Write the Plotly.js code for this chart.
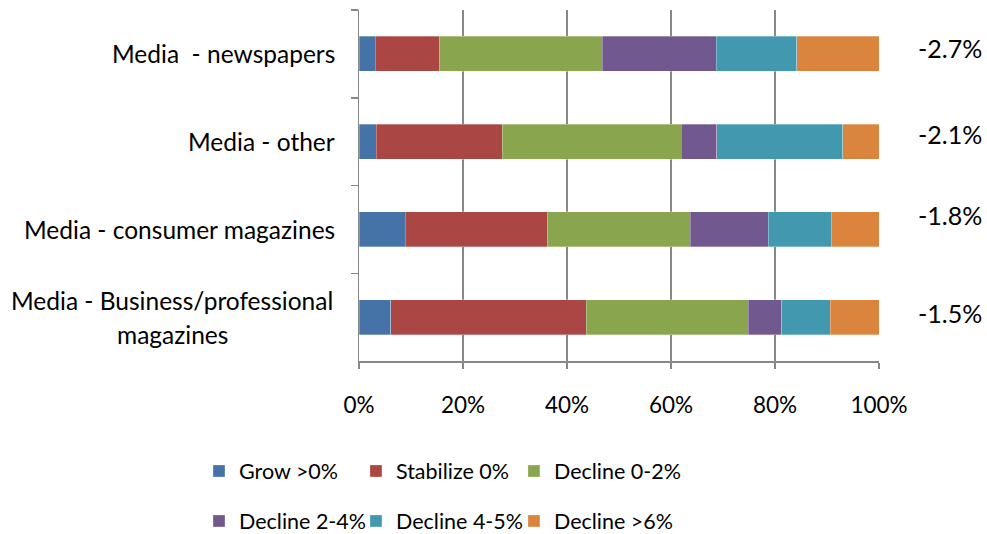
<!DOCTYPE html>
<html>
<head>
<meta charset="utf-8">
<script src="https://cdn.plot.ly/plotly-3.0.1.min.js"></script>
<style>
html,body{margin:0;padding:0;background:#fff;}
#chart{width:987px;height:534px;}
</style>
</head>
<body>
<div id="chart"></div>
<script>
// Categories (top to bottom as in the reference)
const categories = [
  "Media  - newspapers",
  "Media - other",
  "Media - consumer magazines",
  "Media - Business/professional<br>magazines"
];
const seriesNames = ["Grow >0%", "Stabilize 0%", "Decline 0-2%", "Decline 2-4%", "Decline 4-5%", "Decline >6%"];
const growVals      = [3.1, 3.3, 8.9, 6.1];
const stabilizeVals = [12.3, 24.2, 27.3, 37.6];
const decl02Vals    = [31.4, 34.5, 27.5, 31.2];
const decl24Vals    = [21.9, 6.8, 15.0, 6.4];
const decl45Vals    = [15.5, 24.2, 12.1, 9.3];
const declGt6Vals   = [15.8, 7.0, 9.2, 9.4];
const avgLabels     = ["-2.7%", "-2.1%", "-1.8%", "-1.5%"];
const xTickVals     = [0, 20, 40, 60, 80, 100];
const xTickText     = ["0%", "20%", "40%", "60%", "80%", "100%"];
const colors = ["#4572A7", "#AA4643", "#89A54E", "#71588F", "#4198AF", "#DB843D"];

const FONT = "Lato, 'Open Sans', sans-serif";
const allVals = [growVals, stabilizeVals, decl02Vals, decl24Vals, decl45Vals, declGt6Vals];
const legendIds = ["legend", "legend2", "legend3"];

const traces = allVals.map((vals, i) => ({
  type: "bar",
  orientation: "h",
  name: seriesNames[i],
  y: categories,
  x: vals,
  marker: {color: colors[i], line: {color: "rgba(255,255,255,0.5)", width: 0.6}},
  legend: legendIds[i % 3],
  legendgroup: "g" + i,
  hoverinfo: "x+name"
}));

const annotations = [];
// category labels (centered multi-line, right aligned to axis)
categories.forEach((c, i) => {
  const lines = c.split("<br>");
  if (lines.length === 1) {
    annotations.push({xref: "paper", yref: "y", x: 0, y: c, xanchor: "right", xshift: -22,
      text: c, showarrow: false, font: {family: FONT, size: 24.5, color: "#000"}});
  } else {
    lines.forEach((ln, k) => {
      annotations.push({xref: "paper", yref: "y", x: -0.3596, y: c, xanchor: "center",
        yshift: (lines.length - 1) / 2 * 34 - k * 34,
        text: ln, showarrow: false, font: {family: FONT, size: 24.5, color: "#000"}});
    });
  }
});
const avgShift = [6, 8, 14, 4];
avgLabels.forEach((t, i) => {
  annotations.push({xref: "paper", yref: "y", x: 1.137, y: categories[i], xanchor: "center",
    yshift: avgShift[i], text: t, showarrow: false, font: {family: FONT, size: 25, color: "#000"}});
});

const legendCommon = {
  orientation: "v", xref: "paper", yref: "container", y: 0.0712, xanchor: "left", yanchor: "middle",
  traceorder: "grouped", tracegroupgap: 19,
  font: {family: FONT, size: 21.5, color: "#000"}, bgcolor: "rgba(0,0,0,0)"
};
const legendX = [-0.3077, -0.0058, 0.298];

const layout = {
  width: 987, height: 534,
  margin: {l: 359, r: 108, t: 10, b: 173},
  paper_bgcolor: "#fff", plot_bgcolor: "#fff",
  barmode: "stack",
  bargap: 0.6,
  showlegend: true,
  font: {family: FONT, size: 20, color: "#000"},
  xaxis: {
    range: [0, 100], tickvals: xTickVals, ticktext: xTickText,
    showgrid: true, gridcolor: "#878787", gridwidth: 1.5,
    showline: true, linecolor: "#878787", linewidth: 1.5,
    ticks: "outside", ticklen: 6, tickcolor: "#878787", tickwidth: 1.5,
    ticklabelstandoff: 17,
    tickfont: {family: FONT, size: 22.5, color: "#000"},
    zeroline: false, fixedrange: true, automargin: false
  },
  yaxis: {
    type: "category", autorange: "reversed",
    categoryorder: "array", categoryarray: categories,
    showticklabels: false, tickson: "boundaries",
    ticks: "outside", ticklen: 7, tickcolor: "#878787", tickwidth: 1.5,
    showline: true, linecolor: "#878787", linewidth: 1.5,
    showgrid: false, zeroline: false, fixedrange: true, automargin: false
  },
  legend: Object.assign({}, legendCommon, {x: legendX[0]}),
  legend2: Object.assign({}, legendCommon, {x: legendX[1]}),
  legend3: Object.assign({}, legendCommon, {x: legendX[2]}),
  annotations: annotations
};

Plotly.newPlot("chart", traces, layout, {displayModeBar: false, staticPlot: true});
</script>
</body>
</html>
